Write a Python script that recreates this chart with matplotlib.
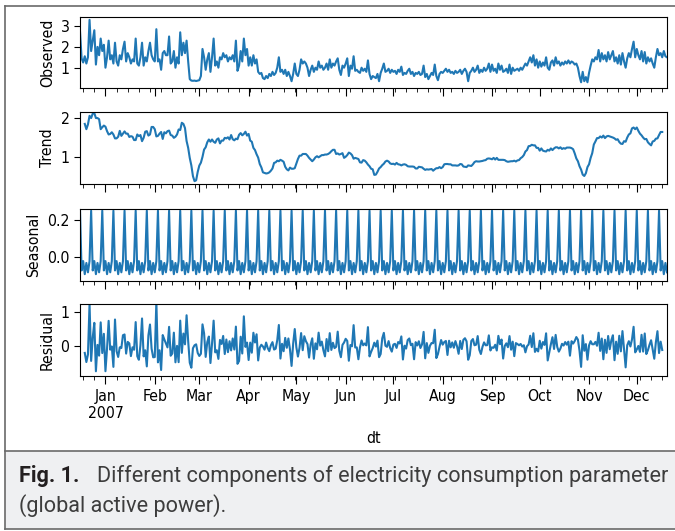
import numpy as np
import matplotlib
matplotlib.use("Agg")
import matplotlib.pyplot as plt
import matplotlib.dates as mdates
from matplotlib.patches import Rectangle
from matplotlib.lines import Line2D
from matplotlib.ticker import FuncFormatter, FixedLocator

plt.rcParams['font.family'] = ['DejaVu Sans']
plt.rcParams['font.stretch'] = 'condensed'

# ---------------- data (daily global active power) -------------
dates = np.arange(np.datetime64('2006-12-16'), np.datetime64('2007-12-21'))  # 370 days

obs_2006_12 = [2.75, 1.45, 1.25, 1.55, 1.2, 1.5, 3.3, 1.8, 2.3, 2.8, 1.15, 2.0, 1.6, 2.4, 1.8, 2.1]
obs_2007_01 = [1.0, 1.5, 2.3, 1.4, 1.6, 1.2, 2.2, 1.3, 1.1, 1.6, 1.4, 1.9, 2.25, 1.3, 1.7, 1.5,
               1.2, 1.4, 1.3, 2.4, 1.2, 1.1, 1.5, 2.2, 1.1, 1.5, 1.3, 1.8, 2.2, 1.6, 1.4]
obs_2007_02 = [1.3, 2.85, 1.3, 1.4, 0.9, 1.7, 1.8, 1.6, 1.6, 2.5, 1.2, 1.3, 1.8, 1.0, 1.5, 1.2,
               2.7, 1.6, 2.2, 1.7, 2.3, 1.3, 0.45, 0.38, 0.37, 0.38, 0.36, 0.38]
obs_2007_03 = [0.4, 0.6, 1.9, 1.5, 0.9, 1.4, 1.7, 0.8, 1.5, 2.4, 1.1, 1.3, 1.0, 1.5, 1.4, 1.7,
               1.5, 1.6, 1.3, 1.5, 1.4, 1.6, 1.3, 2.3, 0.85, 1.1, 1.8, 1.3, 2.4, 1.6, 1.9]
obs_2007_04 = [1.1, 1.5, 1.1, 1.6, 1.2, 1.4, 0.8, 0.7, 0.75, 0.5, 0.45, 0.6, 0.5, 0.7, 0.6,
               0.8, 0.65, 0.75, 1.0, 1.5, 0.8, 0.9, 0.7, 0.9, 0.6, 0.8, 0.6, 0.35, 0.7, 1.2]
obs_2007_05 = [0.7, 0.6, 0.9, 1.4, 1.2, 1.3, 1.2, 1.0, 0.6, 0.9, 1.1, 0.8, 1.0, 0.9, 1.3, 1.0,
               1.1, 0.9, 1.0, 1.2, 0.9, 1.4, 1.0, 1.2, 1.1, 1.3, 1.45, 0.9, 0.65, 1.1, 1.0]
obs_2007_06 = [1.2, 1.45, 0.6, 1.1, 0.95, 1.55, 0.85, 0.9, 0.8, 0.75, 1.0, 0.85, 0.95, 0.8, 1.35,
               0.7, 0.45, 0.6, 0.55, 0.5, 0.7, 0.35, 0.75, 0.95, 1.2, 0.8, 0.85, 0.95, 0.75, 0.9]
obs_2007_07 = [0.8, 0.85, 0.7, 0.9, 0.8, 1.05, 0.65, 0.75, 0.7, 0.85, 0.95, 0.7, 0.8, 0.6, 0.75,
               0.7, 0.8, 0.65, 0.7, 1.1, 0.55, 0.7, 0.45, 0.6, 0.75, 0.65, 1.15, 0.6, 0.4, 0.7, 0.8]
obs_2007_08 = [0.75, 0.85, 0.95, 0.8, 0.9, 0.75, 0.8, 0.7, 0.85, 0.75, 0.8, 0.9, 0.7, 0.85, 0.95,
               0.8, 0.35, 0.75, 0.85, 1.0, 0.8, 0.9, 1.1, 0.75, 0.9, 0.8, 1.0, 0.85, 0.95, 1.2, 0.8]
obs_2007_09 = [1.15, 0.85, 0.95, 0.75, 1.2, 0.9, 1.1, 0.8, 0.85, 0.95, 0.75, 1.15, 0.7, 1.0, 0.85,
               0.9, 0.95, 0.85, 1.0, 0.9, 1.05, 1.2, 1.1, 1.3, 1.5, 1.25, 1.6, 1.1, 1.4, 1.0]
obs_2007_10 = [1.3, 1.05, 1.25, 1.1, 1.5, 1.0, 0.9, 1.25, 1.35, 1.1, 1.5, 1.2, 1.3, 1.1, 1.25,
               1.15, 1.3, 1.2, 1.35, 1.2, 1.3, 1.25, 1.15, 1.2, 1.0, 0.6, 0.3, 0.8, 0.35, 0.55, 0.3]
obs_2007_11 = [0.75, 1.1, 1.4, 1.3, 1.5, 1.4, 1.85, 1.3, 1.7, 1.4, 1.6, 1.3, 1.75, 1.4, 1.6,
               1.8, 1.3, 1.5, 1.2, 1.6, 1.15, 1.7, 1.3, 1.0, 1.45, 1.7, 1.5, 1.9, 2.25, 1.5]
obs_2007_12 = [1.9, 1.6, 1.4, 1.8, 1.3, 1.75, 1.2, 1.5, 1.3, 1.45, 1.2, 1.0, 1.5, 1.9, 1.6,
               1.7, 1.5, 1.8, 1.55, 1.5]

seasonal_pattern = [0.25, -0.07, -0.02, -0.09, -0.03, -0.08, -0.02]   # weekly, starts on 16 Dec
period = 7

panel_names = ['Observed', 'Trend', 'Seasonal', 'Residual']

observed = np.array(obs_2006_12 + obs_2007_01 + obs_2007_02 + obs_2007_03 + obs_2007_04 +
                    obs_2007_05 + obs_2007_06 + obs_2007_07 + obs_2007_08 + obs_2007_09 +
                    obs_2007_10 + obs_2007_11 + obs_2007_12)
n = len(observed)

# additive decomposition: centred moving average trend, weekly seasonal, residual
trend = np.full(n, np.nan)
half = period // 2
trend[half:n - half] = np.convolve(observed, np.ones(period) / period, mode='valid')
seasonal = np.resize(np.array(seasonal_pattern), n)
resid = observed - trend - seasonal
series = [observed, trend, seasonal, resid]

# ---------------- figure -------------
W, H = 675, 531
fig = plt.figure(figsize=(W / 100, H / 100), dpi=100)

def rect(top, bottom, left=80, right=667):
    return [left / W, 1 - bottom / H, (right - left) / W, (bottom - top) / H]

rects = [rect(16.7, 88.3), rect(111.7, 184.0), rect(209.0, 280.7), rect(304.3, 375.7)]
ylims = [(0.01, 3.45), (0.316, 2.17), (-0.125, 0.259), (-0.9, 1.24)]
yticks = [[1, 2, 3], [1, 2], [0.0, 0.2], [0, 1]]
ytick_fmt = ['{:.0f}', '{:.0f}', '{:.1f}', '{:.0f}']

FS = 11.3
axes = []
for i in range(4):
    ax = fig.add_axes(rects[i], sharex=axes[0] if axes else None)
    ax.plot(dates, series[i], color='#1f77b4', lw=1.5)
    ax.set_ylim(*ylims[i])
    ax.yaxis.set_major_locator(FixedLocator(yticks[i]))
    ax.yaxis.set_major_formatter(FuncFormatter(lambda v, p, f=ytick_fmt[i]: f.format(v)))
    ax.set_ylabel(panel_names[i], fontsize=FS)
    ax.tick_params(axis='y', labelsize=FS, length=4)
    ax.tick_params(axis='x', which='major', length=6, labelsize=FS)
    ax.tick_params(axis='x', which='minor', length=3)
    axes.append(ax)

ax0 = axes[0]
ax0.xaxis.set_major_locator(mdates.MonthLocator())
ax0.xaxis.set_minor_locator(mdates.WeekdayLocator(byweekday=mdates.MO))

def month_fmt(x, pos):
    d = mdates.num2date(x)
    return d.strftime('%b\n%Y') if d.month == 1 else d.strftime('%b')

ax0.xaxis.set_major_formatter(FuncFormatter(month_fmt))
ax0.set_xlim(dates[0], dates[-1])
for ax in axes[:-1]:
    ax.tick_params(axis='x', labelbottom=False)
axes[-1].set_xlabel('dt', fontsize=FS, labelpad=7)

# ---------------- caption box and frame -------------
def fx(px):
    return px / W

def fy(py):
    return 1 - py / H

fig.add_artist(Rectangle((fx(5), fy(529)), fx(675) - fx(5), fy(451) - fy(529),
                         transform=fig.transFigure, facecolor='#eff0f2', edgecolor='none', zorder=0))
frame_kw = dict(transform=fig.transFigure, color='#6a6a6a', lw=1.2)
fig.add_artist(Line2D([fx(5.3), fx(5.3)], [fy(6), fy(529)], **frame_kw))
fig.add_artist(Line2D([fx(5), fx(675)], [fy(6), fy(6)], **frame_kw))
fig.add_artist(Line2D([fx(5), fx(675)], [fy(451), fy(451)], **frame_kw))
fig.add_artist(Line2D([fx(5), fx(675)], [fy(529), fy(529)], **frame_kw))

cap_font = dict(family=['Roboto', 'DejaVu Sans'], stretch='normal', va='baseline')
t_bold = fig.text(fx(19), fy(482), 'Fig. 1.', fontsize=12, weight='bold', color='#231f20', **cap_font)
t_line1 = fig.text(fx(96.7), fy(482), 'Different components of electricity consumption parameter',
                   fontsize=12, color='#3d3d3d', **cap_font)
t_line2 = fig.text(fx(19), fy(512), '(global active power).', fontsize=12, color='#3d3d3d', **cap_font)

fig.canvas.draw()
w = t_line1.get_window_extent().width
cap_fs = 12 * 569.0 / w
for t in (t_bold, t_line1, t_line2):
    t.set_fontsize(cap_fs)

fig.savefig('out.png', dpi=100)
